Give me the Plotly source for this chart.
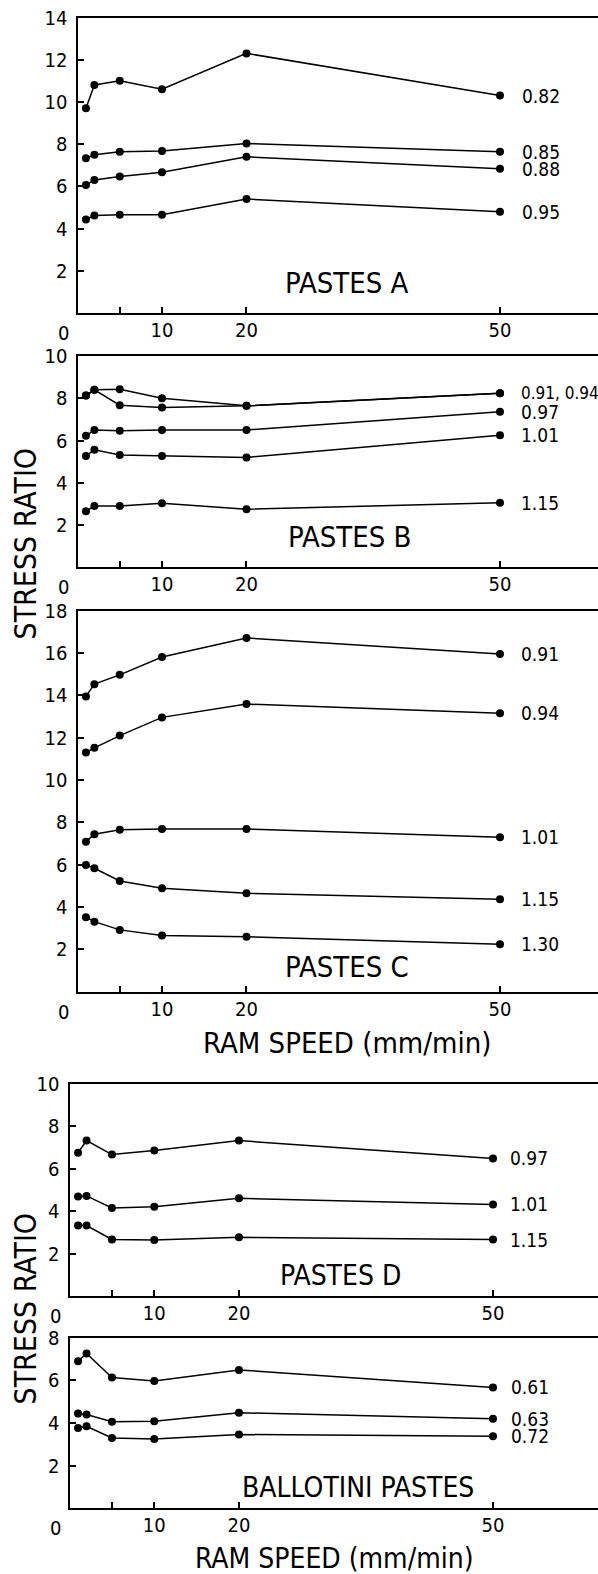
import plotly.graph_objects as go

# ---------------- data ----------------
speed = [1, 2, 5, 10, 20, 50]

A_names = ["0.82", "0.85", "0.88", "0.95"]
A_082 = [9.7, 10.8, 11.0, 10.6, 12.3, 10.3]
A_085 = [7.33, 7.5, 7.64, 7.68, 8.03, 7.64]
A_088 = [6.06, 6.3, 6.47, 6.67, 7.4, 6.83]
A_095 = [4.43, 4.62, 4.65, 4.66, 5.4, 4.8]

B_names = ["0.91, 0.94", "", "0.97", "1.01", "1.15"]
B_091 = [8.13, 8.4, 8.43, 8.0, 7.64, 8.24]
B_094 = [8.13, 8.4, 7.67, 7.56, 7.64, 8.24]
B_097 = [6.22, 6.5, 6.46, 6.5, 6.5, 7.36]
B_101 = [5.27, 5.56, 5.32, 5.27, 5.2, 6.25]
B_115 = [2.65, 2.9, 2.9, 3.03, 2.75, 3.06]

C_names = ["0.91", "0.94", "1.01", "1.15", "1.30"]
C_091 = [13.95, 14.53, 14.97, 15.81, 16.71, 15.95]
C_094 = [11.3, 11.52, 12.1, 12.96, 13.59, 13.16]
C_101 = [7.09, 7.44, 7.65, 7.69, 7.69, 7.3]
C_115 = [5.99, 5.83, 5.23, 4.89, 4.65, 4.37]
C_130 = [3.52, 3.31, 2.92, 2.65, 2.6, 2.24]

D_names = ["0.97", "1.01", "1.15"]
D_097 = [6.76, 7.33, 6.67, 6.86, 7.33, 6.49]
D_101 = [4.69, 4.72, 4.15, 4.21, 4.61, 4.32]
D_115 = [3.32, 3.32, 2.67, 2.64, 2.77, 2.66]

E_names = ["0.61", "0.63", "0.72"]
E_061 = [6.9, 7.26, 6.13, 5.97, 6.49, 5.67]
E_063 = [4.45, 4.4, 4.06, 4.08, 4.48, 4.2]
E_072 = [3.77, 3.85, 3.3, 3.25, 3.46, 3.38]

x_tickvals = [5, 10, 20, 50]
x_ticktext = ["", "10", "20", "50"]

panel_titles = ["PASTES A", "PASTES B", "PASTES C", "PASTES D", "BALLOTINI PASTES"]
panel_ymax = [14, 10, 18, 10, 8]
panel_series = [
    (A_names, [A_082, A_085, A_088, A_095]),
    (B_names, [B_091, B_094, B_097, B_101, B_115]),
    (C_names, [C_091, C_094, C_101, C_115, C_130]),
    (D_names, [D_097, D_101, D_115]),
    (E_names, [E_061, E_063, E_072]),
]

# ---------------- layout geometry (pixels) ----------------
W, H = 598, 1574
FONT = "DejaVu Sans Condensed, Liberation Sans Narrow, DejaVu Sans, sans-serif"
# (left px, top px, bottom px, x range max, title right px, title y px, title size, label shift)
geo = [
    (77.5, 17.5, 313.0, 61.6, 411, 283, 29, 20),
    (77.5, 356.0, 567.3, 61.6, 413, 537, 29, 19),
    (77.5, 610.7, 991.7, 61.6, 411, 967, 29, 19),
    (69.6, 1084.0, 1296.0, 62.4, 403, 1275, 28, 15),
    (69.6, 1337.7, 1508.3, 62.4, 476, 1487, 28, 16),
]


def fx(px):
    return px / W


def fy(px):
    return 1 - px / H


fig = go.Figure()
annotations = []
layout = dict(
    template="none",
    width=W, height=H, margin=dict(l=0, r=0, t=0, b=0, pad=0, autoexpand=False),
    paper_bgcolor="white", plot_bgcolor="white", showlegend=False,
    font=dict(family=FONT, color="black", size=20),
)

for i, (title, ymax, (names, series), g) in enumerate(zip(panel_titles, panel_ymax, panel_series, geo)):
    left, top, bottom, xmax, t_right, t_y, t_size, lshift = g
    k = "" if i == 0 else str(i + 1)
    xa, ya = "x" + k, "y" + k
    layout["xaxis" + k] = dict(
        domain=[fx(left), 1.0], range=[0, xmax], anchor=ya, automargin=False,
        showline=True, linecolor="black", linewidth=2.2, mirror=True,
        showgrid=False, zeroline=False,
        ticks="inside", ticklen=6, tickwidth=1.6, tickcolor="black",
        tickvals=x_tickvals, ticktext=x_ticktext,
        tickfont=dict(size=20, family=FONT), ticklabelstandoff=-2,
    )
    layout["yaxis" + k] = dict(
        domain=[fy(bottom), fy(top)], range=[0, ymax], anchor=xa, automargin=False,
        showline=True, linecolor="black", linewidth=2.2,
        showgrid=False, zeroline=False,
        ticks="inside", ticklen=6, tickwidth=1.6, tickcolor="black",
        tickvals=list(range(2, ymax + 1, 2)),
        tickfont=dict(size=20, family=FONT), ticklabelstandoff=4,
    )
    for name, ys in zip(names, series):
        fig.add_trace(go.Scatter(
            x=speed, y=ys, xaxis=xa, yaxis=ya, mode="lines+markers",
            line=dict(color="black", width=1.5),
            marker=dict(color="black", size=8),
            hoverinfo="skip",
        ))
        if name:
            annotations.append(dict(
                x=speed[-1], y=ys[-1], xref=xa, yref=ya, text=name,
                xanchor="left", yanchor="middle", xshift=lshift, showarrow=False,
                font=dict(size=17 if "," in name else 19, family=FONT),
            ))
    # panel title
    annotations.append(dict(
        x=fx(t_right), y=fy(t_y), xref="paper", yref="paper", text=title,
        xanchor="right", yanchor="middle", showarrow=False,
        font=dict(size=t_size, family=FONT),
    ))
    # origin "0" label
    annotations.append(dict(
        x=0, y=fy(bottom + 20), xref=xa, yref="paper", text="0",
        xanchor="center", yanchor="middle", xshift=-14, showarrow=False,
        font=dict(size=20, family=FONT),
    ))

# axis titles
for yc in (543.5, 1308.5):
    annotations.append(dict(
        x=fx(25), y=fy(yc), xref="paper", yref="paper", text="STRESS RATIO",
        textangle=-90, xanchor="center", yanchor="middle", showarrow=False,
        font=dict(size=30, family=FONT),
    ))
for xc, yc, sz in ((347, 1043, 29), (334, 1558, 28)):
    annotations.append(dict(
        x=fx(xc), y=fy(yc), xref="paper", yref="paper", text="RAM SPEED (mm/min)",
        xanchor="center", yanchor="middle", showarrow=False,
        font=dict(size=sz, family=FONT),
    ))

layout["annotations"] = annotations
fig.update_layout(**layout)
fig.write_html("out.html")
